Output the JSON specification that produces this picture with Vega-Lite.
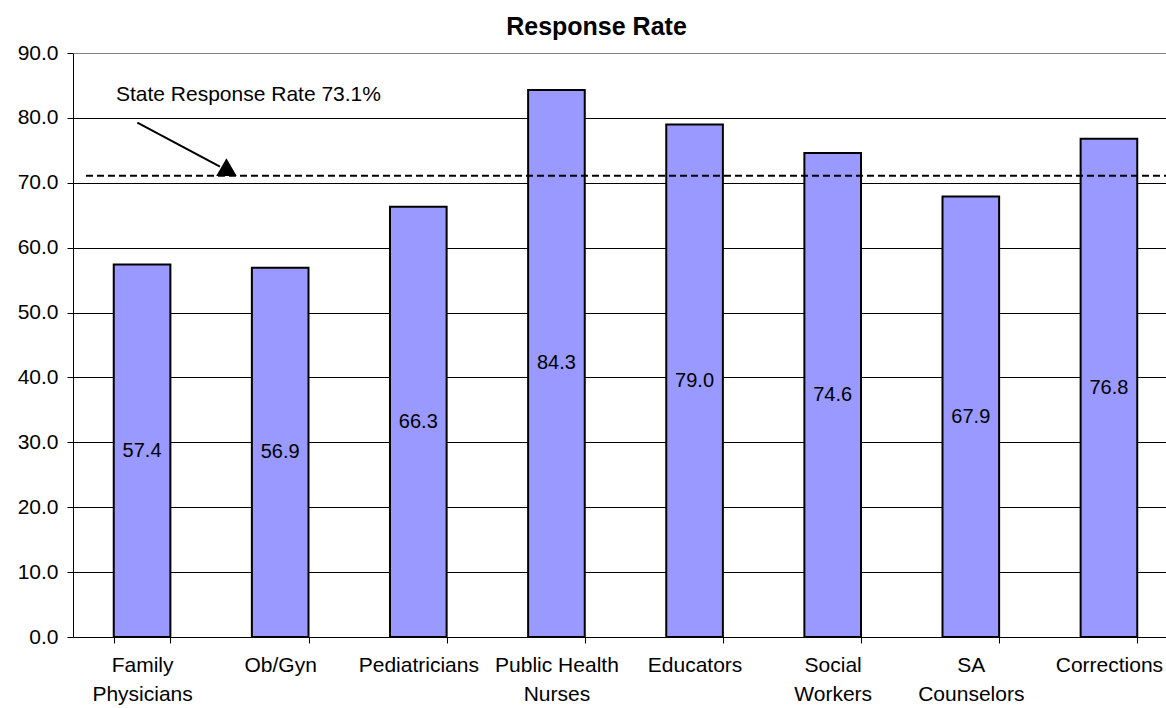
{
  "$schema": "https://vega.github.io/schema/vega-lite/v6.json",
  "width": 1093,
  "height": 584,
  "autosize": {"type": "none"},
  "padding": {"left": 73, "top": 53, "right": 0, "bottom": 71},
  "config": {"font": "Liberation Sans", "view": {"stroke": null}},
  "title": {"text": "Response Rate", "fontSize": 25, "fontWeight": "bold", "font": "Liberation Sans", "color": "black", "anchor": "middle", "dx": -23, "offset": 2},
  "datasets": {
    "bars": [
      {"category": "Family Physicians", "value": 57.4},
      {"category": "Ob/Gyn", "value": 56.9},
      {"category": "Pediatricians", "value": 66.3},
      {"category": "Public Health Nurses", "value": 84.3},
      {"category": "Educators", "value": 79.0},
      {"category": "Social Workers", "value": 74.6},
      {"category": "SA Counselors", "value": 67.9},
      {"category": "Corrections", "value": 76.8}
    ],
    "stateLine": [{"x": 0.094, "x2": 8, "y": 71.1}],
    "arrow": [{"x": 0.466, "y": 79.26, "x2": 1.064, "y2": 72.48}],
    "arrowHead": [{"x": 1.111, "y": 72.4}],
    "note": [{"x": 0.311, "y": 82.6, "label": "State Response Rate 73.1%"}]
  },
  "layer": [
    {
      "data": {"name": "bars"},
      "mark": {"type": "bar", "color": "#9999FF", "stroke": "black", "strokeWidth": 2},
      "encoding": {
        "x": {"field": "category", "type": "nominal", "sort": null,
          "scale": {"range": [0, 1105], "paddingInner": 0.59, "paddingOuter": 0.295},
          "axis": {"title": null, "labelAngle": 0, "tickBand": "extent", "labelFontSize": 21, "labelColor": "black",
            "labelExpr": "datum.label == 'Public Health Nurses' ? ['Public Health', 'Nurses'] : split(datum.label, ' ')",
            "labelLineHeight": 29, "labelPadding": 11, "labelBaseline": "top", "tickSize": 6, "tickColor": "black", "domainColor": "black", "grid": false}},
        "y": {"field": "value", "type": "quantitative",
          "scale": {"domain": [0, 90], "nice": false},
          "axis": {"title": null, "values": [0, 10, 20, 30, 40, 50, 60, 70, 80, 90], "format": ".1f", "labelFontSize": 21, "labelColor": "black",
            "labelPadding": 9, "tickSize": 6, "tickColor": "black", "domainColor": "black", "grid": true,
            "gridColor": {"condition": {"test": "datum.value == 90", "value": "#808080"}, "value": "black"}, "gridOpacity": 1}}
      }
    },
    {
      "data": {"name": "bars"},
      "mark": {"type": "text", "fontSize": 20, "color": "black", "baseline": "middle", "align": "center"},
      "encoding": {
        "x": {"field": "category", "type": "nominal", "sort": null,
          "scale": {"range": [0, 1105], "paddingInner": 0.59, "paddingOuter": 0.295}, "axis": null},
        "y": {"field": "value", "type": "quantitative", "scale": {"domain": [0, 180], "nice": false}, "axis": null},
        "text": {"field": "value", "type": "quantitative", "format": ".1f"}
      }
    },
    {
      "data": {"name": "stateLine"},
      "mark": {"type": "rule", "color": "black", "strokeWidth": 2, "strokeDash": [7, 4]},
      "encoding": {
        "x": {"field": "x", "type": "quantitative", "scale": {"domain": [0, 8], "range": [0, 1105], "nice": false, "zero": false}, "axis": null},
        "x2": {"field": "x2"},
        "y": {"field": "y", "type": "quantitative", "scale": {"domain": [0, 90], "nice": false}, "axis": null}
      }
    },
    {
      "data": {"name": "arrow"},
      "mark": {"type": "rule", "color": "black", "strokeWidth": 2},
      "encoding": {
        "x": {"field": "x", "type": "quantitative", "scale": {"domain": [0, 8], "range": [0, 1105], "nice": false, "zero": false}, "axis": null},
        "x2": {"field": "x2"},
        "y": {"field": "y", "type": "quantitative", "scale": {"domain": [0, 90], "nice": false}, "axis": null},
        "y2": {"field": "y2"}
      }
    },
    {
      "data": {"name": "arrowHead"},
      "mark": {"type": "point", "shape": "triangle-up", "size": 420, "filled": true, "color": "black", "opacity": 1},
      "encoding": {
        "x": {"field": "x", "type": "quantitative", "scale": {"domain": [0, 8], "range": [0, 1105], "nice": false, "zero": false}, "axis": null},
        "y": {"field": "y", "type": "quantitative", "scale": {"domain": [0, 90], "nice": false}, "axis": null}
      }
    },
    {
      "data": {"name": "note"},
      "mark": {"type": "text", "fontSize": 21, "color": "black", "align": "left", "baseline": "alphabetic"},
      "encoding": {
        "x": {"field": "x", "type": "quantitative", "scale": {"domain": [0, 8], "range": [0, 1105], "nice": false, "zero": false}, "axis": null},
        "y": {"field": "y", "type": "quantitative", "scale": {"domain": [0, 90], "nice": false}, "axis": null},
        "text": {"field": "label"}
      }
    }
  ],
  "resolve": {"scale": {"x": "independent", "y": "independent"}}
}
